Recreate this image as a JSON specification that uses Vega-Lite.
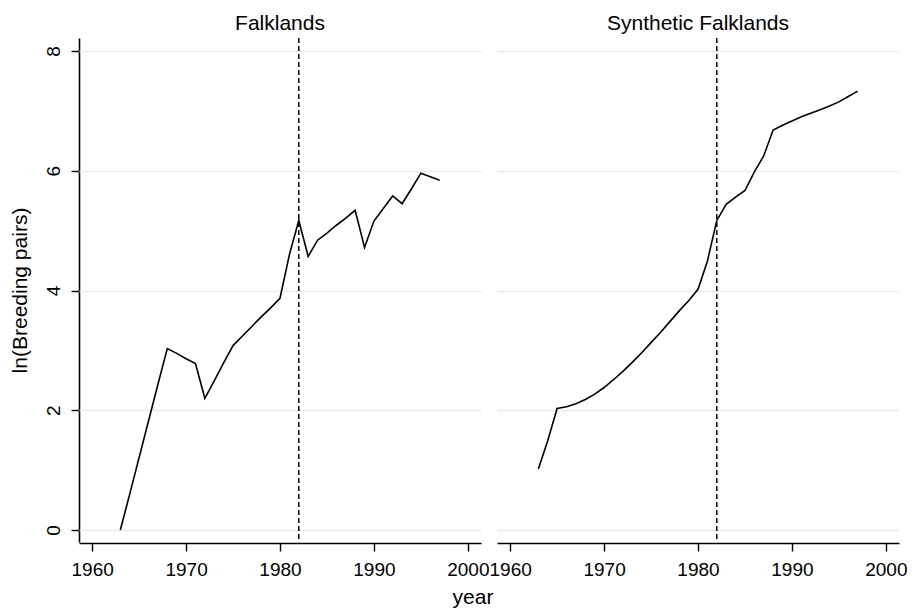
{
  "$schema": "https://vega.github.io/schema/vega-lite/v6.json",
  "padding": {"left": 8, "top": 13, "right": 5, "bottom": 2},
  "background": "white",
  "title": {"text": "year", "orient": "bottom", "anchor": "middle", "fontSize": 21, "fontWeight": "normal", "font": "Liberation Sans", "color": "#000", "offset": 8, "dx": 15},
  "data": {"values": [
    {"panel": "Falklands", "year": 1963, "value": 0.0},
    {"panel": "Falklands", "year": 1964, "value": 0.6},
    {"panel": "Falklands", "year": 1965, "value": 1.21},
    {"panel": "Falklands", "year": 1966, "value": 1.82},
    {"panel": "Falklands", "year": 1967, "value": 2.43},
    {"panel": "Falklands", "year": 1968, "value": 3.03},
    {"panel": "Falklands", "year": 1969, "value": 2.95},
    {"panel": "Falklands", "year": 1970, "value": 2.86},
    {"panel": "Falklands", "year": 1971, "value": 2.78},
    {"panel": "Falklands", "year": 1972, "value": 2.2},
    {"panel": "Falklands", "year": 1973, "value": 2.49},
    {"panel": "Falklands", "year": 1974, "value": 2.79},
    {"panel": "Falklands", "year": 1975, "value": 3.08},
    {"panel": "Falklands", "year": 1976, "value": 3.24},
    {"panel": "Falklands", "year": 1977, "value": 3.4},
    {"panel": "Falklands", "year": 1978, "value": 3.56},
    {"panel": "Falklands", "year": 1979, "value": 3.71},
    {"panel": "Falklands", "year": 1980, "value": 3.87},
    {"panel": "Falklands", "year": 1981, "value": 4.6},
    {"panel": "Falklands", "year": 1982, "value": 5.17},
    {"panel": "Falklands", "year": 1983, "value": 4.57},
    {"panel": "Falklands", "year": 1984, "value": 4.84},
    {"panel": "Falklands", "year": 1985, "value": 4.96},
    {"panel": "Falklands", "year": 1986, "value": 5.09},
    {"panel": "Falklands", "year": 1987, "value": 5.21},
    {"panel": "Falklands", "year": 1988, "value": 5.34},
    {"panel": "Falklands", "year": 1989, "value": 4.72},
    {"panel": "Falklands", "year": 1990, "value": 5.16},
    {"panel": "Falklands", "year": 1991, "value": 5.37},
    {"panel": "Falklands", "year": 1992, "value": 5.58},
    {"panel": "Falklands", "year": 1993, "value": 5.45},
    {"panel": "Falklands", "year": 1994, "value": 5.7},
    {"panel": "Falklands", "year": 1995, "value": 5.96},
    {"panel": "Falklands", "year": 1996, "value": 5.9},
    {"panel": "Falklands", "year": 1997, "value": 5.84},
    {"panel": "Synthetic Falklands", "year": 1963, "value": 1.02},
    {"panel": "Synthetic Falklands", "year": 1964, "value": 1.49},
    {"panel": "Synthetic Falklands", "year": 1965, "value": 2.03},
    {"panel": "Synthetic Falklands", "year": 1966, "value": 2.06},
    {"panel": "Synthetic Falklands", "year": 1967, "value": 2.11},
    {"panel": "Synthetic Falklands", "year": 1968, "value": 2.18},
    {"panel": "Synthetic Falklands", "year": 1969, "value": 2.27},
    {"panel": "Synthetic Falklands", "year": 1970, "value": 2.38},
    {"panel": "Synthetic Falklands", "year": 1971, "value": 2.51},
    {"panel": "Synthetic Falklands", "year": 1972, "value": 2.65},
    {"panel": "Synthetic Falklands", "year": 1973, "value": 2.8},
    {"panel": "Synthetic Falklands", "year": 1974, "value": 2.96},
    {"panel": "Synthetic Falklands", "year": 1975, "value": 3.13},
    {"panel": "Synthetic Falklands", "year": 1976, "value": 3.3},
    {"panel": "Synthetic Falklands", "year": 1977, "value": 3.48},
    {"panel": "Synthetic Falklands", "year": 1978, "value": 3.66},
    {"panel": "Synthetic Falklands", "year": 1979, "value": 3.83},
    {"panel": "Synthetic Falklands", "year": 1980, "value": 4.02},
    {"panel": "Synthetic Falklands", "year": 1981, "value": 4.49},
    {"panel": "Synthetic Falklands", "year": 1982, "value": 5.17},
    {"panel": "Synthetic Falklands", "year": 1983, "value": 5.44},
    {"panel": "Synthetic Falklands", "year": 1984, "value": 5.56},
    {"panel": "Synthetic Falklands", "year": 1985, "value": 5.67},
    {"panel": "Synthetic Falklands", "year": 1986, "value": 5.98},
    {"panel": "Synthetic Falklands", "year": 1987, "value": 6.25},
    {"panel": "Synthetic Falklands", "year": 1988, "value": 6.68},
    {"panel": "Synthetic Falklands", "year": 1989, "value": 6.76},
    {"panel": "Synthetic Falklands", "year": 1990, "value": 6.83},
    {"panel": "Synthetic Falklands", "year": 1991, "value": 6.9},
    {"panel": "Synthetic Falklands", "year": 1992, "value": 6.96},
    {"panel": "Synthetic Falklands", "year": 1993, "value": 7.02},
    {"panel": "Synthetic Falklands", "year": 1994, "value": 7.08},
    {"panel": "Synthetic Falklands", "year": 1995, "value": 7.15},
    {"panel": "Synthetic Falklands", "year": 1996, "value": 7.24},
    {"panel": "Synthetic Falklands", "year": 1997, "value": 7.33}
  ]},
  "facet": {
    "column": {
      "field": "panel",
      "type": "nominal",
      "sort": ["Falklands", "Synthetic Falklands"],
      "header": {"title": null, "labelFontSize": 21, "labelFont": "Liberation Sans", "labelColor": "#000", "labelPadding": 3}
    }
  },
  "spacing": 16,
  "spec": {
    "width": 402,
    "height": 504,
    "encoding": {
      "x": {
        "field": "year", "type": "quantitative",
        "scale": {"domain": [1958.6, 2001.4], "nice": false, "zero": false},
        "axis": {
          "title": null,
          "values": [1960, 1970, 1980, 1990, 2000],
          "format": "d",
          "grid": false,
          "labelFontSize": 19,
          "labelColor": "#000",
          "labelPadding": 9,
          "tickSize": 8,
          "tickColor": "#000",
          "tickWidth": 1.4,
          "domainColor": "#000",
          "domainWidth": 1.6,
          "labelFlush": false,
          "labelOverlap": false
        }
      }
    },
    "layer": [
      {
        "mark": {"type": "line", "color": "#000", "strokeWidth": 1.6},
        "encoding": {
          "y": {
            "field": "value", "type": "quantitative",
            "scale": {"domain": [-0.2, 8.217], "nice": false, "zero": false},
            "axis": {
              "title": "ln(Breeding pairs)",
              "values": [0, 2, 4, 6, 8],
              "grid": true,
              "gridColor": "#e4edf0",
              "gridWidth": 1.4,
              "labelAngle": -90,
              "labelAlign": "center",
              "labelBaseline": "bottom",
              "labelFontSize": 19,
              "labelColor": "#000",
              "labelPadding": 8,
              "tickSize": 8,
              "tickColor": "#000",
              "tickWidth": 1.4,
              "domainColor": "#000",
              "domainWidth": 1.6,
              "titleFontSize": 21,
              "titleFontWeight": "normal",
              "titleColor": "#000",
              "titlePadding": 14,
              "labelFlush": false,
              "labelOverlap": false
            }
          }
        }
      },
      {
        "transform": [{"filter": "datum.year == 1982"}],
        "mark": {"type": "rule", "color": "#000", "strokeWidth": 1.5, "strokeDash": [5, 3]},
        "encoding": {}
      }
    ]
  },
  "config": {
    "font": "Liberation Sans",
    "view": {"stroke": null}
  }
}
